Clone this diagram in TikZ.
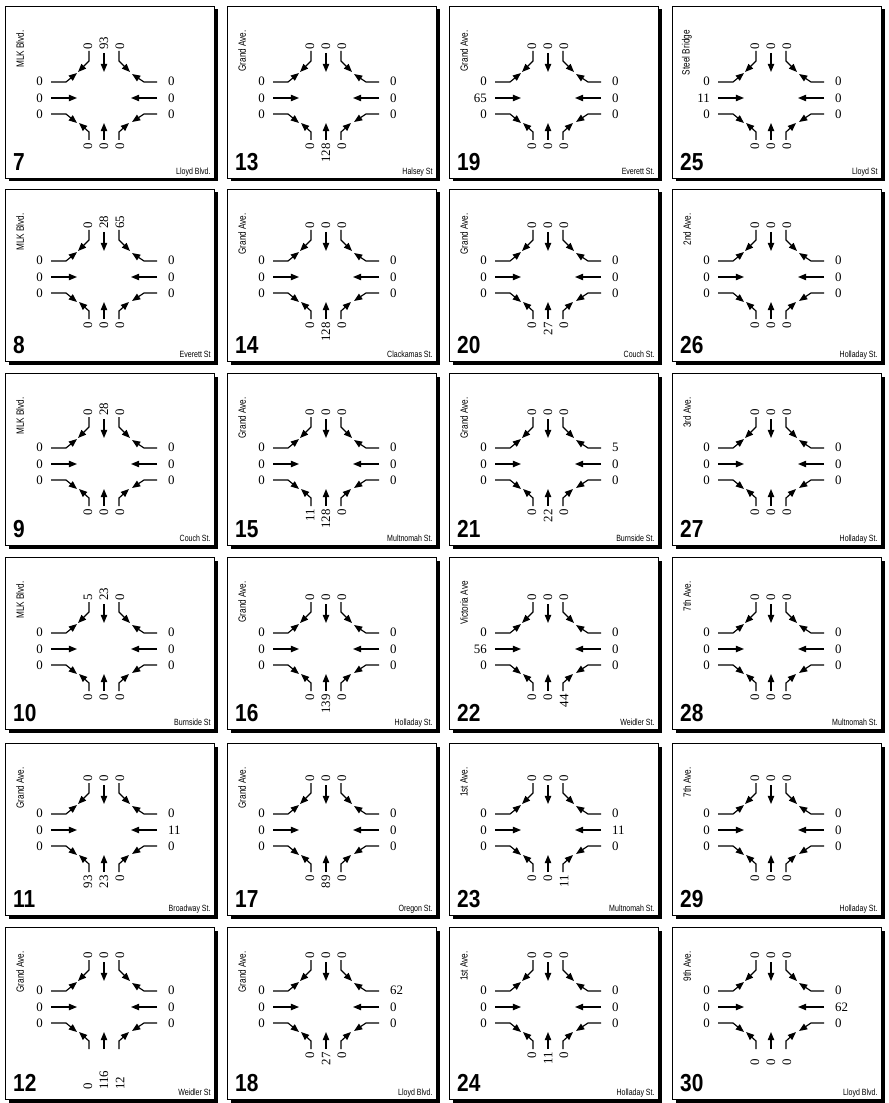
\documentclass[tikz,border=0pt]{standalone}
\usepackage{fontspec}
\setmainfont{Liberation Serif}
\newfontfamily\panelnumfont[FakeStretch=0.85]{Liberation Sans}
\newfontfamily\streetfont[FakeStretch=0.78]{Liberation Sans}
\usetikzlibrary{arrows.meta,calc}

% one intersection panel
% #1 bottom end of bottom volumes (empty: hang from top), #2 column, #3 row,
% #4 panel number, #5 N-S street, #6 E-W street, #7 top volumes,
% #8 bottom volumes, #9 left volumes then right volumes
\newcommand{\tmcpanel}[9][]{%
  \pgfmathsetmacro{\bx}{{5,227,449,672}[#2]}
  \pgfmathsetmacro{\by}{{6,189,373,557,743,927}[#3]}
  \pgfmathsetmacro{\cy}{{98,277,464,649,830,1007}[#3]}
  \def\bottomdrop{#1}
  \fill (\bx+3.5,\by+3.5) rectangle ++(209,172);
  \node[panelbox, anchor=north west] (box#4) at (\bx,\by) {};
  \coordinate (c#4) at (\bx+99,\cy);
  \node[panelnum, anchor=base west] (n#4) at ($(box#4.south west)+(8,-8)$) {#4};
  \node[vstreet, rotate=90, anchor=east] (ns#4) at ($(box#4.north west)+(15,24)$) {#5};
  \node[street, anchor=base east] (ew#4) at ($(box#4.south east)+(-4,-4)$) {#6};
  \foreach \v [count=\k] in {#7}
    \node[vol, rotate=90, anchor=west] (t#4-\k) at ($(c#4)+({(\k-2)*16},-48)$) {\v};
  \foreach \v [count=\k] in {#8}{
    \ifx\bottomdrop\empty
      \node[vol, rotate=90, anchor=east] (b#4-\k) at ($(c#4)+({(\k-2)*16},45)$) {\v};
    \else
      \node[vol, rotate=90, anchor=west] (b#4-\k) at ($(c#4)+({(\k-2)*16},\bottomdrop)$) {\v};
    \fi
  }
  \foreach \v [count=\k] in {#9}{
    \ifnum\k<4
      \node[vol, anchor=east] (l#4-\k) at ($(c#4)+(-61,{(\k-2)*16.5})$) {\v};
    \else
      \node[vol, anchor=west] (r#4-\k) at ($(c#4)+(64,{(\k-5)*16.5})$) {\v};
    \fi
  }
  \begin{scope}[shift={(c#4)}]
    % eastbound
    \draw[mv] (-53,-16) -- (-38,-16) -- (-27,-25);
    \draw[mv] (-53,0) -- (-27,0);
    \draw[mv] (-53,16) -- (-38,16) -- (-27,25);
    % westbound
    \draw[mv] (53,-16) -- (40,-16) -- (28,-24);
    \draw[mv] (53,0) -- (27,0);
    \draw[mv] (53,16) -- (40,16) -- (28,24);
    % southbound
    \draw[mv] (-15,-47) -- (-15,-37) -- (-26,-26);
    \draw[mv] (0,-45) -- (0,-26);
    \draw[mv] (15,-47) -- (15,-37) -- (26,-26);
    % northbound
    \draw[mv] (-15,42) -- (-15,34) -- (-25,25);
    \draw[mv] (0,42) -- (0,25);
    \draw[mv] (15,42) -- (15,34) -- (25,25);
  \end{scope}
}

\begin{document}
\begin{tikzpicture}[
    x=0.03cm, y=-0.03cm,
    panelbox/.style={
        draw,
        fill=white,
        line width=0.7pt,
        minimum width=6.27cm,
        minimum height=5.16cm,
        inner sep=0pt
    },
    panelnum/.style={
        font=\panelnumfont\bfseries\fontsize{21}{21}\selectfont,
        inner sep=0pt
    },
    street/.style={
        font=\streetfont\fontsize{7.7}{8}\selectfont,
        inner sep=0pt
    },
    vstreet/.style={
        font=\streetfont\fontsize{9}{9}\selectfont,
        inner sep=0pt
    },
    vol/.style={
        font=\fontsize{11}{11}\selectfont,
        inner sep=0pt
    },
    mv/.style={-{Triangle[length=7pt,width=5.5pt]}, line width=1pt}
]
\useasboundingbox (0,0) rectangle (888,1103);

% column 1
\tmcpanel{0}{0}{7}{MLK Blvd.}{Lloyd Blvd.}{0,93,0}{0,0,0}{0,0,0,0,0,0}
\tmcpanel{0}{1}{8}{MLK Blvd.}{Everett St}{0,28,65}{0,0,0}{0,0,0,0,0,0}
\tmcpanel{0}{2}{9}{MLK Blvd.}{Couch St.}{0,28,0}{0,0,0}{0,0,0,0,0,0}
\tmcpanel{0}{3}{10}{MLK Blvd.}{Burnside St}{5,23,0}{0,0,0}{0,0,0,0,0,0}
\tmcpanel{0}{4}{11}{Grand Ave.}{Broadway St.}{0,0,0}{93,23,0}{0,0,0,0,11,0}
\tmcpanel[83]{0}{5}{12}{Grand Ave.}{Weidler St}{0,0,0}{0,116,12}{0,0,0,0,0,0}

% column 2
\tmcpanel{1}{0}{13}{Grand Ave.}{Halsey St}{0,0,0}{0,128,0}{0,0,0,0,0,0}
\tmcpanel{1}{1}{14}{Grand Ave.}{Clackamas St.}{0,0,0}{0,128,0}{0,0,0,0,0,0}
\tmcpanel{1}{2}{15}{Grand Ave.}{Multnomah St.}{0,0,0}{11,128,0}{0,0,0,0,0,0}
\tmcpanel{1}{3}{16}{Grand Ave.}{Holladay St.}{0,0,0}{0,139,0}{0,0,0,0,0,0}
\tmcpanel{1}{4}{17}{Grand Ave.}{Oregon St.}{0,0,0}{0,89,0}{0,0,0,0,0,0}
\tmcpanel{1}{5}{18}{Grand Ave.}{Lloyd Blvd.}{0,0,0}{0,27,0}{0,0,0,62,0,0}

% column 3
\tmcpanel{2}{0}{19}{Grand Ave.}{Everett St.}{0,0,0}{0,0,0}{0,65,0,0,0,0}
\tmcpanel{2}{1}{20}{Grand Ave.}{Couch St.}{0,0,0}{0,27,0}{0,0,0,0,0,0}
\tmcpanel{2}{2}{21}{Grand Ave.}{Burnside St.}{0,0,0}{0,22,0}{0,0,0,5,0,0}
\tmcpanel{2}{3}{22}{Victoria Ave}{Weidler St.}{0,0,0}{0,0,44}{0,56,0,0,0,0}
\tmcpanel{2}{4}{23}{1st Ave.}{Multnomah St.}{0,0,0}{0,0,11}{0,0,0,0,11,0}
\tmcpanel{2}{5}{24}{1st Ave.}{Holladay St.}{0,0,0}{0,11,0}{0,0,0,0,0,0}

% column 4
\tmcpanel{3}{0}{25}{Steel Bridge}{Lloyd St}{0,0,0}{0,0,0}{0,11,0,0,0,0}
\tmcpanel{3}{1}{26}{2nd Ave.}{Holladay St.}{0,0,0}{0,0,0}{0,0,0,0,0,0}
\tmcpanel{3}{2}{27}{3rd Ave.}{Holladay St.}{0,0,0}{0,0,0}{0,0,0,0,0,0}
\tmcpanel{3}{3}{28}{7th Ave.}{Multnomah St.}{0,0,0}{0,0,0}{0,0,0,0,0,0}
\tmcpanel{3}{4}{29}{7th Ave.}{Holladay St.}{0,0,0}{0,0,0}{0,0,0,0,0,0}
\tmcpanel[59]{3}{5}{30}{9th Ave.}{Lloyd Blvd.}{0,0,0}{0,0,0}{0,0,0,0,62,0}

\end{tikzpicture}
\end{document}
